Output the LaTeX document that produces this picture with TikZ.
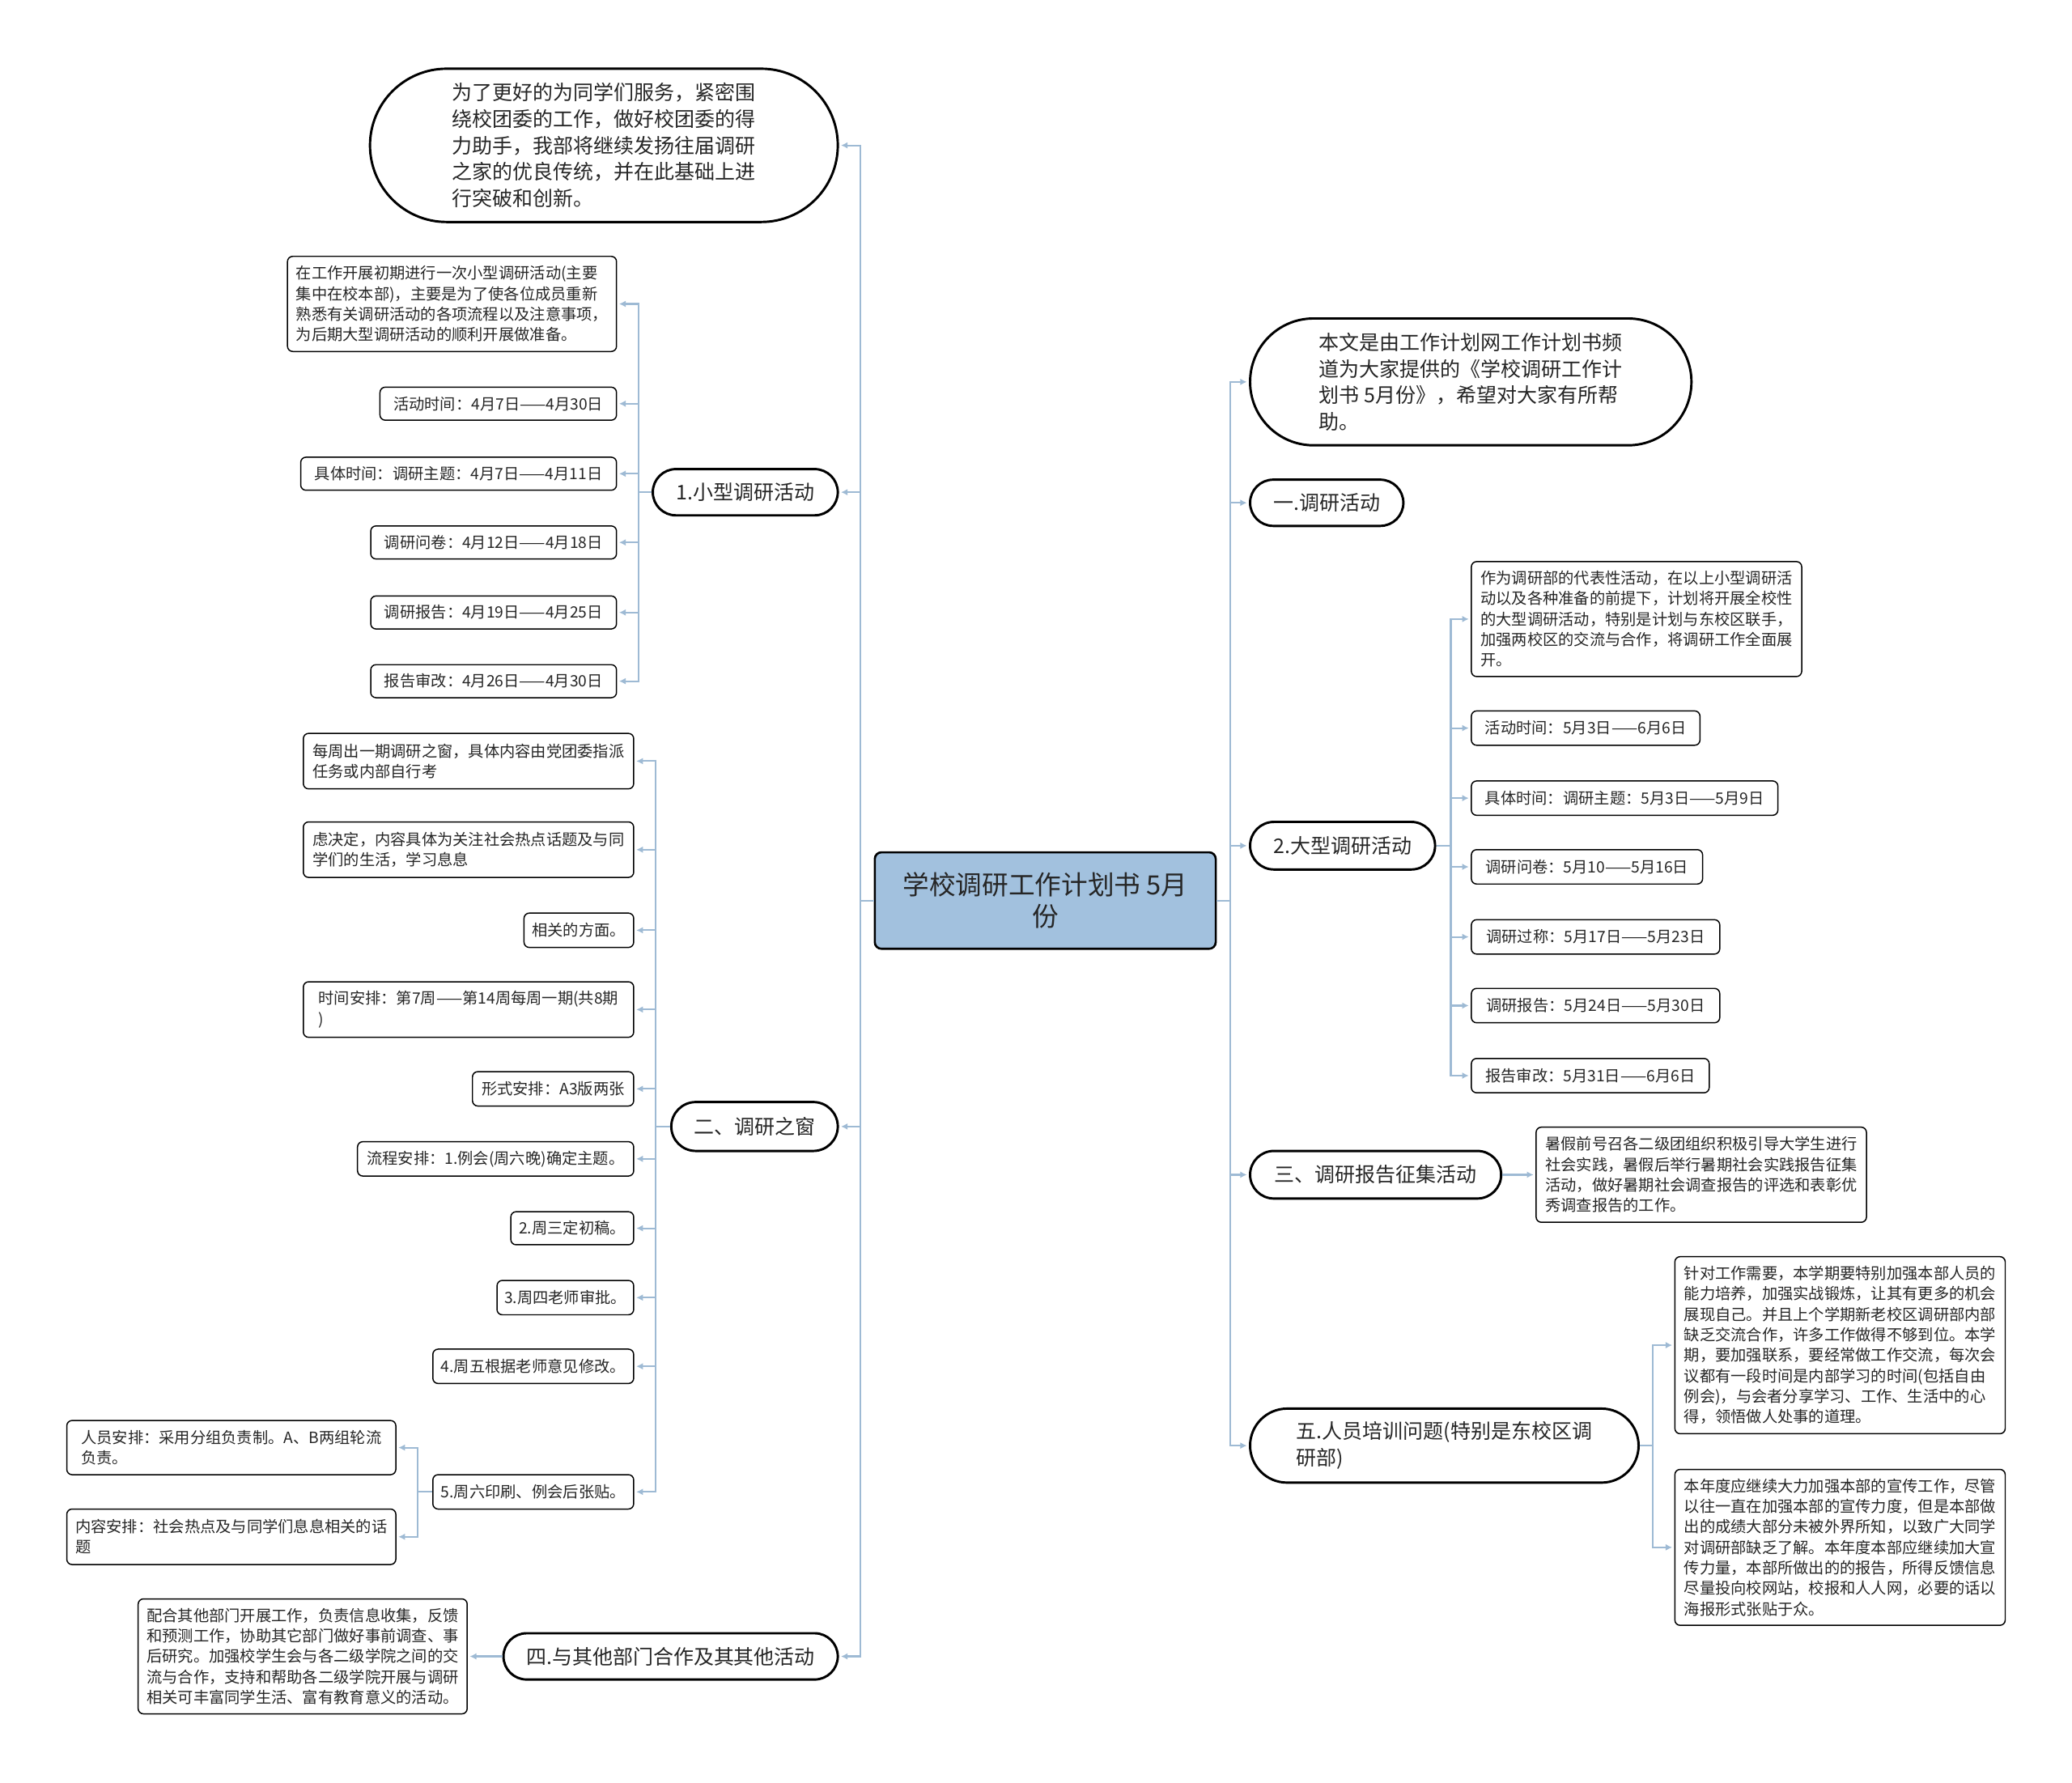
\documentclass[tikz,border=0pt]{standalone}
\usepackage{fontspec}
\setmainfont{Noto Sans CJK SC}
\usetikzlibrary{arrows.meta, positioning}
\usepackage{xcolor}
\definecolor{lblue}{RGB}{158,186,212}
\definecolor{cfill}{RGB}{162,193,222}
\definecolor{txt}{RGB}{38,38,38}

\begin{document}
\begin{tikzpicture}[x=1pt, y=-1pt,
  root/.style={draw,line width=1.6pt,fill=cfill,rounded corners=5pt,text=txt,
               font=\fontsize{20}{24}\selectfont,align=center,inner sep=0pt,
               minimum width=258pt,minimum height=73pt},
  topic/.style 2 args={draw,line width=1.8pt,fill=white,text=txt,
               font=\fontsize{15.3}{20}\selectfont,align=left,inner sep=0pt,
               minimum width=#1pt,minimum height=#2pt,rounded corners=0.5*#2pt},
  leaf/.style 2 args={draw,line width=0.9pt,fill=white,rounded corners=4pt,text=txt,
               font=\fontsize{11.8}{15.5}\selectfont,align=left,inner xsep=5.5pt,inner ysep=0pt,
               minimum width=#1pt,minimum height=#2pt},
  conn/.style={-{Latex[length=5pt,width=5pt]},lblue,line width=1.3pt,shorten >=1.5pt}
]
\fill[white] (0,0) rectangle (1568,1349);
\useasboundingbox (0,0) rectangle (1568,1349);

% Root
\node[root] (ctr) at (791,681.5) {学校调研工作计划书 5月\\份};

% Left topics
\node[topic={354}{116}] (intro) at (457,110) {为了更好的为同学们服务，紧密围\\绕校团委的工作，做好校团委的得\\力助手，我部将继续发扬往届调研\\之家的优良传统，并在此基础上进\\行突破和创新。};
\node[topic={140}{35}] (small)  at (564,372.5) {1.小型调研活动};
\node[topic={126}{37}] (window) at (571,852.5) {二、调研之窗};
\node[topic={253}{35}] (coop)   at (507.5,1253.5) {四.与其他部门合作及其其他活动};

% Right topics
\node[topic={334}{96}] (note)   at (1113,289) {本文是由工作计划网工作计划书频\\道为大家提供的《学校调研工作计\\划书 5月份》，希望对大家有所帮\\助。};
\node[topic={116}{35}] (act)    at (1004,380.5) {一.调研活动};
\node[topic={140}{36}] (big)    at (1016,640) {2.大型调研活动};
\node[topic={190}{36}] (report) at (1041,889) {三、调研报告征集活动};
\node[topic={294}{56}] (train)  at (1093,1094) {五.人员培训问题(特别是东校区调\\研部)};

\draw[conn] (ctr.west) -- ++(-10,0) |- (intro.east);
\draw[conn] (ctr.west) -- ++(-10,0) |- (small.east);
\draw[conn] (ctr.west) -- ++(-10,0) |- (window.east);
\draw[conn] (ctr.west) -- ++(-10,0) |- (coop.east);
\draw[conn] (ctr.east) -- ++(10,0) |- (note.west);
\draw[conn] (ctr.east) -- ++(10,0) |- (act.west);
\draw[conn] (ctr.east) -- ++(10,0) |- (big.west);
\draw[conn] (ctr.east) -- ++(10,0) |- (report.west);
\draw[conn] (ctr.east) -- ++(10,0) |- (train.west);

% 1. small survey
\node[leaf={249}{72},anchor=east] (s1) at (467,230) {在工作开展初期进行一次小型调研活动(主要\\集中在校本部)，主要是为了使各位成员重新\\熟悉有关调研活动的各项流程以及注意事项，\\为后期大型调研活动的顺利开展做准备。};
\node[leaf={179}{25},anchor=east] (s2) at (467,305.5) {活动时间：4月7日——4月30日};
\node[leaf={239}{25},anchor=east] (s3) at (467,358.5) {具体时间：调研主题：4月7日——4月11日};
\node[leaf={186}{25},anchor=east] (s4) at (467,410.5) {调研问卷：4月12日——4月18日};
\node[leaf={186}{25},anchor=east] (s5) at (467,463.5) {调研报告：4月19日——4月25日};
\node[leaf={186}{25},anchor=east] (s6) at (467,515.5) {报告审改：4月26日——4月30日};
\draw[conn] (small.west) -- ++(-10,0) |- (s1.east); \draw[conn] (small.west) -- ++(-10,0) |- (s2.east);
\draw[conn] (small.west) -- ++(-10,0) |- (s3.east); \draw[conn] (small.west) -- ++(-10,0) |- (s4.east);
\draw[conn] (small.west) -- ++(-10,0) |- (s5.east); \draw[conn] (small.west) -- ++(-10,0) |- (s6.east);

% 二. survey window
\node[leaf={250}{42},anchor=east] (w1) at (480,576) {每周出一期调研之窗，具体内容由党团委指派\\任务或内部自行考};
\node[leaf={250}{42},anchor=east] (w2) at (480,643) {虑决定，内容具体为关注社会热点话题及与同\\学们的生活，学习息息};
\node[leaf={83}{26},anchor=east]  (w3) at (480,704) {相关的方面。};
\node[leaf={250}{42},anchor=east] (w4) at (480,764) {时间安排：第7周——第14周每周一期(共8期\\)};
\node[leaf={122}{26},anchor=east] (w5) at (480,824) {形式安排：A3版两张};
\node[leaf={209}{26},anchor=east] (w6) at (480,877) {流程安排：1.例会(周六晚)确定主题。};
\node[leaf={93}{25},anchor=east]  (w7) at (480,929.5) {2.周三定初稿。};
\node[leaf={103}{26},anchor=east] (w8) at (480,982) {3.周四老师审批。};
\node[leaf={152}{26},anchor=east] (w9) at (480,1034) {4.周五根据老师意见修改。};
\node[leaf={152}{26},anchor=east] (w10) at (480,1129) {5.周六印刷、例会后张贴。};
\draw[conn] (window.west) -- ++(-11,0) |- (w1.east); \draw[conn] (window.west) -- ++(-11,0) |- (w2.east);
\draw[conn] (window.west) -- ++(-11,0) |- (w3.east); \draw[conn] (window.west) -- ++(-11,0) |- (w4.east);
\draw[conn] (window.west) -- ++(-11,0) |- (w5.east); \draw[conn] (window.west) -- ++(-11,0) |- (w6.east);
\draw[conn] (window.west) -- ++(-11,0) |- (w7.east); \draw[conn] (window.west) -- ++(-11,0) |- (w8.east);
\draw[conn] (window.west) -- ++(-11,0) |- (w9.east); \draw[conn] (window.west) -- ++(-11,0) |- (w10.east);

\node[leaf={249}{41},anchor=east] (w10a) at (300,1095.5) {人员安排：采用分组负责制。A、B两组轮流\\负责。};
\node[leaf={249}{42},anchor=east] (w10b) at (300,1163) {内容安排：社会热点及与同学们息息相关的话\\题};
\draw[conn] (w10.west) -- ++(-11,0) |- (w10a.east); \draw[conn] (w10.west) -- ++(-11,0) |- (w10b.east);

% 四. cooperation
\node[leaf={249}{87},anchor=east] (c1) at (354,1253.5) {配合其他部门开展工作，负责信息收集，反馈\\和预测工作，协助其它部门做好事前调查、事\\后研究。加强校学生会与各二级学院之间的交\\流与合作，支持和帮助各二级学院开展与调研\\相关可丰富同学生活、富有教育意义的活动。};
\draw[conn] (coop) -- (c1);

% 2. big survey
\node[leaf={250}{87},anchor=west] (b1) at (1113,468.5) {作为调研部的代表性活动，在以上小型调研活\\动以及各种准备的前提下，计划将开展全校性\\的大型调研活动，特别是计划与东校区联手，\\加强两校区的交流与合作，将调研工作全面展\\开。};
\node[leaf={173}{26},anchor=west] (b2) at (1113,551) {活动时间：5月3日——6月6日};
\node[leaf={232}{26},anchor=west] (b3) at (1113,604) {具体时间：调研主题：5月3日——5月9日};
\node[leaf={175}{26},anchor=west] (b4) at (1113,656) {调研问卷：5月10——5月16日};
\node[leaf={188}{26},anchor=west] (b5) at (1113,709) {调研过称：5月17日——5月23日};
\node[leaf={188}{26},anchor=west] (b6) at (1113,761) {调研报告：5月24日——5月30日};
\node[leaf={180}{26},anchor=west] (b7) at (1113,814) {报告审改：5月31日——6月6日};
\draw[conn] (big.east) -- ++(11,0) |- (b1.west); \draw[conn] (big.east) -- ++(11,0) |- (b2.west);
\draw[conn] (big.east) -- ++(11,0) |- (b3.west); \draw[conn] (big.east) -- ++(11,0) |- (b4.west);
\draw[conn] (big.east) -- ++(11,0) |- (b5.west); \draw[conn] (big.east) -- ++(11,0) |- (b6.west);
\draw[conn] (big.east) -- ++(11,0) |- (b7.west);

% 三. report collection
\node[leaf={250}{72},anchor=west] (r1) at (1162,889) {暑假前号召各二级团组织积极引导大学生进行\\社会实践，暑假后举行暑期社会实践报告征集\\活动，做好暑期社会调查报告的评选和表彰优\\秀调查报告的工作。};
\draw[conn] (report) -- (r1);

% 五. training
\node[leaf={250}{134},anchor=west] (t1) at (1267,1018) {针对工作需要，本学期要特别加强本部人员的\\能力培养，加强实战锻炼，让其有更多的机会\\展现自己。并且上个学期新老校区调研部内部\\缺乏交流合作，许多工作做得不够到位。本学\\期，要加强联系，要经常做工作交流，每次会\\议都有一段时间是内部学习的时间(包括自由\\例会)，与会者分享学习、工作、生活中的心\\得，领悟做人处事的道理。};
\node[leaf={250}{118},anchor=west] (t2) at (1267,1171) {本年度应继续大力加强本部的宣传工作，尽管\\以往一直在加强本部的宣传力度，但是本部做\\出的成绩大部分未被外界所知，以致广大同学\\对调研部缺乏了解。本年度本部应继续加大宣\\传力量，本部所做出的的报告，所得反馈信息\\尽量投向校网站，校报和人人网，必要的话以\\海报形式张贴于众。};
\draw[conn] (train.east) -- ++(10,0) |- (t1.west); \draw[conn] (train.east) -- ++(10,0) |- (t2.west);
\end{tikzpicture}
\end{document}
